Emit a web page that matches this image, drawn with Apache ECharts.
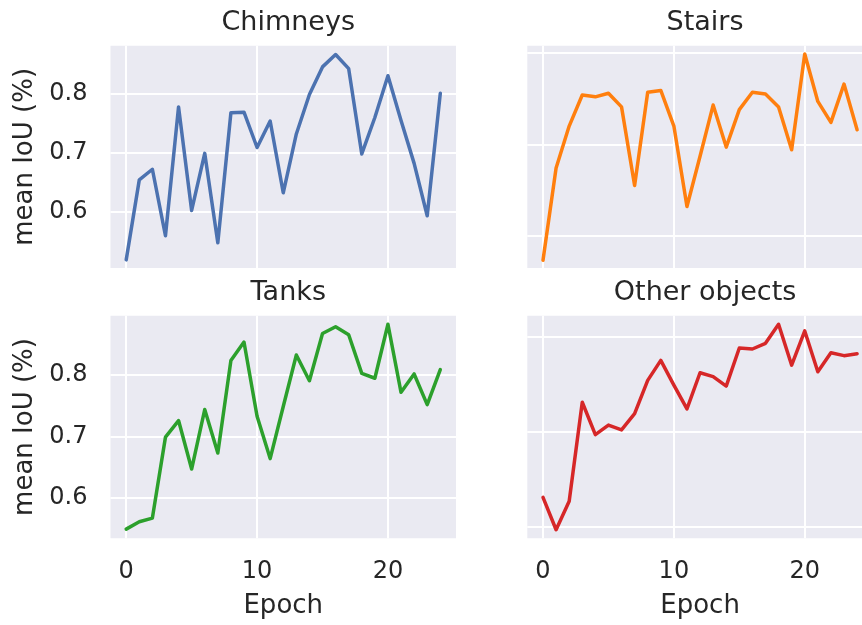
<!DOCTYPE html>
<html>
<head>
<meta charset="utf-8">
<script src="https://cdn.jsdelivr.net/npm/echarts@6/dist/echarts.min.js"></script>
<style>
  html, body { margin: 0; padding: 0; background: #ffffff; overflow: hidden; }
  #frame { width: 862px; height: 625px; overflow: hidden; position: relative; }
  /* the drawing surface is a little wider than the frame: the right-hand panels are cut by the frame edge */
  #chart { width: 874px; height: 625px; position: absolute; left: 0; top: 0; }
</style>
</head>
<body>
<div id="frame"><div id="chart"></div></div>
<script>
// Training epochs
const epochs = [0, 1, 2, 3, 4, 5, 6, 7, 8, 9, 10, 11, 12, 13, 14, 15, 16, 17, 18, 19, 20, 21, 22, 23, 24];

// Mean IoU per epoch for each object class
const chimneys = [0.518, 0.654, 0.672, 0.559, 0.778, 0.602, 0.699, 0.547, 0.768, 0.769,
                  0.709, 0.754, 0.632, 0.732, 0.799, 0.846, 0.867, 0.843, 0.698, 0.760,
                  0.831, 0.755, 0.682, 0.593, 0.801];
const stairs = [0.573, 0.674, 0.720, 0.754, 0.752, 0.756, 0.741, 0.655, 0.757, 0.759,
                0.720, 0.632, 0.687, 0.743, 0.697, 0.738, 0.757, 0.755, 0.741, 0.694,
                0.799, 0.747, 0.724, 0.766, 0.716];
const tanks = [0.549, 0.561, 0.567, 0.699, 0.726, 0.647, 0.744, 0.673, 0.824, 0.854,
               0.733, 0.664, 0.749, 0.833, 0.791, 0.868, 0.879, 0.866, 0.803, 0.795,
               0.883, 0.772, 0.802, 0.752, 0.809];
const otherObjects = [0.631, 0.597, 0.627, 0.731, 0.697, 0.707, 0.702, 0.719, 0.754, 0.775,
                      0.749, 0.724, 0.762, 0.758, 0.748, 0.788, 0.787, 0.793, 0.813, 0.770,
                      0.806, 0.763, 0.783, 0.780, 0.782];

const panelTitles = ['Chimneys', 'Stairs', 'Tanks', 'Other objects'];
const xTicks = [0, 10, 20];
const yTicks = [0.6, 0.7, 0.8];

const seriesData = [chimneys, stairs, tanks, otherObjects];
const colors = ['#4C72B0', '#FF7F0E', '#2CA02C', '#D62728'];
const yRanges = [[0.504, 0.882], [0.5645, 0.808], [0.534, 0.897], [0.588, 0.822]];

const FONT = 'DejaVu Sans';
const TEXT = '#262626';
const BG = '#EAEAF2';

const gridPos = [
  { left: 110.5, top: 45.7, width: 345.5, height: 222.4 },
  { left: 527.3, top: 45.7, width: 345.5, height: 222.4 },
  { left: 110.5, top: 315.7, width: 345.5, height: 222.6 },
  { left: 527.3, top: 315.7, width: 345.5, height: 222.6 }
];

const grids = gridPos.map(g => ({
  show: true, backgroundColor: BG, borderWidth: 0, containLabel: false,
  left: g.left, top: g.top, width: g.width, height: g.height
}));

const titles = gridPos.map((g, i) => ({
  text: panelTitles[i],
  left: g.left + g.width / 2,
  top: g.top - 41,
  textAlign: 'center',
  textStyle: { fontFamily: FONT, fontSize: 27, fontWeight: 'normal', color: TEXT }
}));

const xAxes = gridPos.map((g, i) => {
  const bottom = i >= 2;
  return {
    type: 'value', gridIndex: i, min: -1.2, max: 25.2,
    name: bottom ? 'Epoch' : '',
    nameLocation: 'middle', nameGap: 55,
    nameTextStyle: { fontFamily: FONT, fontSize: 26, color: TEXT },
    axisLine: { show: false },
    axisTick: { show: false, customValues: xTicks },
    axisLabel: {
      show: bottom, customValues: xTicks, margin: 21,
      fontFamily: FONT, fontSize: 24, color: TEXT
    },
    splitLine: { show: true, lineStyle: { color: '#ffffff', width: 2 } }
  };
});

const yAxes = gridPos.map((g, i) => {
  const left = i % 2 === 0;
  return {
    type: 'value', gridIndex: i, min: yRanges[i][0], max: yRanges[i][1],
    name: left ? 'mean IoU (%)' : '',
    nameLocation: 'middle', nameGap: 72,
    nameTextStyle: { fontFamily: FONT, fontSize: 26, color: TEXT },
    axisLine: { show: false },
    axisTick: { show: false, customValues: yTicks },
    axisLabel: {
      show: left, customValues: yTicks, margin: 23,
      fontFamily: FONT, fontSize: 24, color: TEXT,
      formatter: v => v.toFixed(1)
    },
    splitLine: { show: true, lineStyle: { color: '#ffffff', width: 2 } }
  };
});

const series = seriesData.map((vals, i) => ({
  type: 'line', xAxisIndex: i, yAxisIndex: i,
  data: epochs.map((e, k) => [e, vals[k]]),
  showSymbol: false, symbol: 'none',
  lineStyle: { color: colors[i], width: 3.5, join: 'round', cap: 'round' },
  itemStyle: { color: colors[i] },
  clip: true, animation: false
}));

const chart = echarts.init(document.getElementById('chart'), null, { renderer: 'canvas' });
chart.setOption({
  backgroundColor: '#ffffff',
  animation: false,
  title: titles,
  grid: grids,
  xAxis: xAxes,
  yAxis: yAxes,
  series: series
});
</script>
</body>
</html>
